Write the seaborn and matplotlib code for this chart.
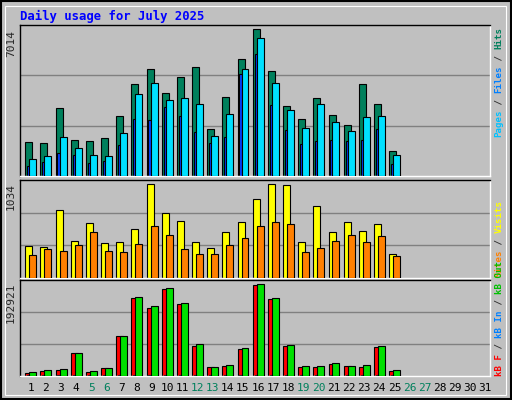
import numpy as np
import matplotlib
matplotlib.use("Agg")
import matplotlib.pyplot as plt
import seaborn as sns

days = list(range(1, 32))
n = 25
hits = [1622, 1575, 3245, 1718, 1670, 1813, 2863, 4390, 5105, 3960, 4724, 5201, 2243,
        3769, 5583, 7014, 5010, 3340, 2720, 3722, 2911, 2433, 4390, 3435, 1193]
files = [811, 954, 1861, 1336, 1002, 954, 2052, 3913, 4437, 3626, 3722, 3435, 1909,
         2958, 5105, 6585, 4437, 3149, 2290, 3435, 2577, 2147, 2815, 2863, 1002]
pages = [477, 668, 1097, 1002, 620, 716, 1479, 2720, 2672, 3292, 2863, 2099, 1575,
         1861, 4867, 5822, 3388, 2195, 1527, 1670, 1718, 1670, 1718, 2243, 573]
visits = [348, 337, 753, 405, 607, 382, 393, 539, 1034, 719, 629, 393, 326, 506, 618,
          877, 1034, 1023, 393, 798, 506, 618, 517, 596, 270]
sites = [258, 315, 303, 360, 506, 303, 292, 371, 573, 472, 315, 270, 270, 360, 438,
         573, 618, 596, 292, 326, 405, 472, 393, 461, 247]
kb_f = [4240, 8480, 10600, 46640, 6360, 14840, 82680, 163250, 142050, 182330, 150530,
        61480, 16960, 19080, 55120, 190810, 161130, 61480, 16960, 16960, 23320, 19080,
        16960, 59360, 8480]
kb_in = [300] * n
kb_out = [6360, 10600, 12720, 46640, 8480, 14840, 82680, 165370, 146290, 184450, 152650,
          65720, 16960, 21200, 57240, 192921, 163250, 63600, 19080, 19080, 25440, 19080,
          21200, 61480, 10600]
weekend = [5, 6, 12, 13, 19, 20, 26, 27]
max_labels = ["7014", "1034", "192921"]

sns.set_style("white")
plt.rcParams['font.family'] = ['DejaVu Sans Mono', 'DejaVu Sans']

BG = "#C0C0C0"
fig = plt.figure(figsize=(5.12, 4.0), dpi=100, facecolor=BG)
W, H = 512, 400

def add_ax(top, bottom):
    ax = fig.add_axes([20 / W, 1 - bottom / H, 470 / W, (bottom - top) / H])
    ax.set_facecolor(BG)
    ax.set_xlim(0.5, 31.5)
    for s in ["left", "top"]:
        ax.spines[s].set_color("black")
    for s in ["right", "bottom"]:
        ax.spines[s].set_color("white")
    for s in ax.spines.values():
        s.set_linewidth(1)
    ax.set_xticks([])
    ax.set_yticks([])
    return ax

x = np.arange(1, n + 1)
wd = 0.46
ek = dict(edgecolor="black", linewidth=0.8, align="edge")

def grid(ax, top):
    for f in (1 / 3, 2 / 3):
        ax.axhline(top * f, color="#808080", linewidth=1, zorder=0)

ax1 = add_ax(25, 176.5)
ax1.set_ylim(0, 7205)
grid(ax1, 7205)
ax1.bar(x - 0.15, hits, wd, color="#00805C", zorder=2, **ek)
ax1.bar(x + 0.11, files, wd, color="#00E0FF", zorder=3, **ek)
ax1.bar(x - 0.03, pages, 0.14, color="#0040FF", zorder=2, **ek)

ax2 = add_ax(180, 278)
ax2.set_ylim(0, 1082)
grid(ax2, 1082)
ax2.bar(x - 0.15, visits, wd, color="#FFFF00", zorder=2, **ek)
ax2.bar(x + 0.11, sites, wd, color="#FF8000", zorder=3, **ek)

ax3 = add_ax(280, 375.5)
ax3.set_ylim(0, 202000)
grid(ax3, 202000)
ax3.bar(x - 0.15, kb_f, wd, color="#FF0000", zorder=2, **ek)
ax3.bar(x - 0.03, kb_in, 0.14, color="#0080FF", zorder=2, **ek)
ax3.bar(x + 0.11, kb_out, wd, color="#00E000", zorder=3, **ek)

for d in days:
    ax3.text(d + 0.2, -0.08, str(d), transform=ax3.get_xaxis_transform(),
             ha="center", va="top", fontsize=8,
             color="#00805C" if d in weekend else "black")

for ax, lab in zip([ax1, ax2, ax3], max_labels):
    ax.text(-0.009, 0.97, lab, transform=ax.transAxes, rotation=90,
            ha="right", va="top", fontsize=8)

fig.text(20 / W, 1 - 16 / H, "Daily usage for July 2025", color="#0000FF",
         fontsize=8.8, fontweight="bold", ha="left", va="center")

renderer = fig.canvas.get_renderer()

def side_label(chunks, y_bottom):
    # place coloured pieces one after the other, measured with the renderer
    y = y_bottom
    for txt, col in chunks:
        t = fig.text(499 / W, 1 - y / H, txt, rotation=90, color=col, fontsize=6.6,
                     fontweight="bold", ha="center", va="bottom")
        y -= t.get_window_extent(renderer).height

side_label([("Pages", "#00C0FF"), (" / ", "#303030"), ("Files", "#0080FF"),
            (" / ", "#303030"), ("Hits", "#00805C")], 137)
side_label([("Sites", "#FF8000"), (" / ", "#303030"), ("Visits", "#FFFF00")], 277)
side_label([("kB F", "#FF0000"), (" / ", "#303030"), ("kB In", "#0080FF"),
            (" / ", "#303030"), ("kB Out", "#00C000")], 376)

# outer frame
fig.patches.append(plt.Rectangle((0.002, 0.002), 0.996, 0.996, transform=fig.transFigure,
                                 fill=False, edgecolor="black", linewidth=1.5))
fig.patches.append(plt.Rectangle((5 / W, 5 / H), 501 / W, 389 / H, transform=fig.transFigure,
                                 fill=False, edgecolor="white", linewidth=0.8))

fig.savefig("out.png", dpi=100, facecolor=BG)
